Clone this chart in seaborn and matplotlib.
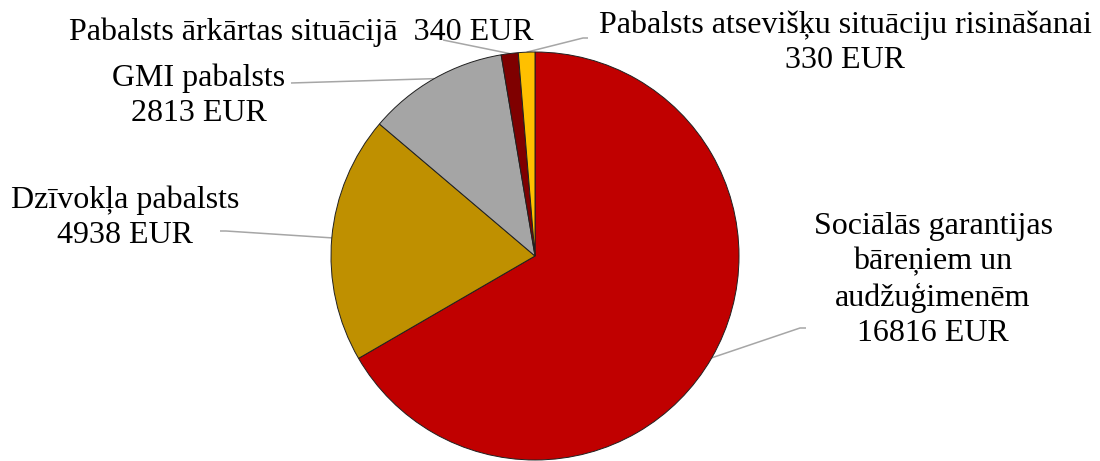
import numpy as np
import matplotlib
matplotlib.use("Agg")
import matplotlib.pyplot as plt
import seaborn as sns

W, H = 1100, 461

categories = [
    "Sociālās garantijas\nbāreņiem un\naudžuģimenēm",
    "Dzīvokļa pabalsts",
    "GMI pabalsts",
    "Pabalsts ārkārtas situācijā ",
    "Pabalsts atsevišķu situāciju risināšanai",
]
values = [16816, 4938, 2813, 340, 330]
colors = ["#C00000", "#BF9000", "#A5A5A5", "#7F0000", "#FFC000"]

# label layout, in pixels from the top-left corner
label_pos = [(933, 280), (125, 218), (199, 96), (301, 32), (845, 43)]
label_sep = ["\n", "\n", "\n", " ", "\n"]
leader_end = [
    [(800, 328), (806, 328)],
    [(226, 231), (220, 231)],
    [(291, 83)],
    [(443, 40)],
    [(583, 38), (588, 38)],
]


def px(x, y):
    return x, H - y


def main():
    sns.set_theme(style="white")
    plt.rcParams["font.family"] = ["Liberation Serif", "DejaVu Serif"]

    fig = plt.figure(figsize=(W / 100, H / 100), dpi=100)
    ax = fig.add_axes([0, 0, 1, 1])

    center = px(535, 256)
    radius = 204
    wedges, _ = ax.pie(
        values,
        colors=colors,
        startangle=90,
        counterclock=False,
        center=center,
        radius=radius,
        wedgeprops={"edgecolor": "#202020", "linewidth": 0.7},
    )
    ax.set_xlim(0, W)
    ax.set_ylim(0, H)
    ax.axis("off")

    for w, cat, val, pos, sep, ends in zip(
        wedges, categories, values, label_pos, label_sep, leader_end
    ):
        mid = np.deg2rad((w.theta1 + w.theta2) / 2)
        ax0 = center[0] + radius * np.cos(mid)
        ay0 = center[1] + radius * np.sin(mid)
        pts = [(ax0, ay0)] + [px(x, y) for x, y in ends]
        xs, ys = zip(*pts)
        ax.plot(xs, ys, color="#A6A6A6", lw=1.1, zorder=0.5, solid_capstyle="butt")
        ax.text(
            *px(*pos),
            f"{cat}{sep}{val} EUR",
            ha="center",
            va="center",
            fontsize=23,
            linespacing=1.27,
            color="black",
        )

    fig.savefig("out.png", dpi=100)


if __name__ == "__main__":
    main()
